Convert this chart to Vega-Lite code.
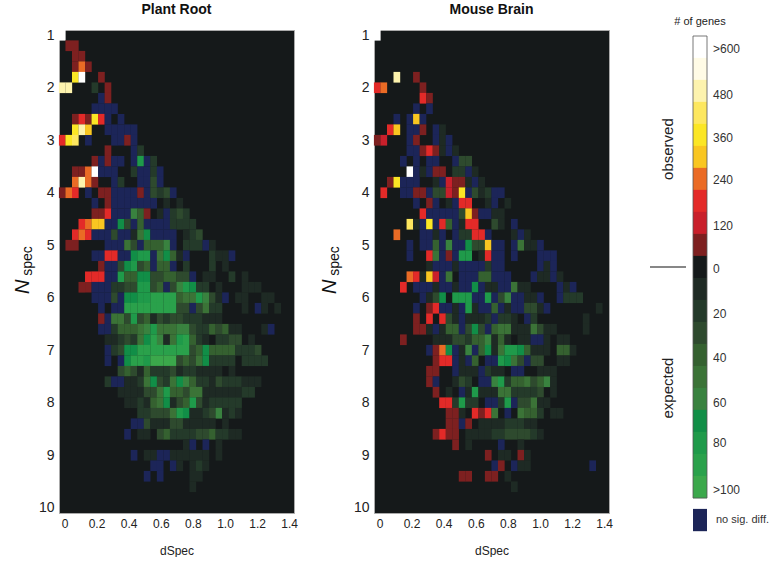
{"$schema":"https://vega.github.io/schema/vega-lite/v6.json","background":"white","padding":{"left":12,"top":2,"right":0,"bottom":0},"bounds":"flush","spacing":80,
"config":{"font":"Liberation Sans","view":{"stroke":"#aaaaaa"},"axis":{"grid":false,"domain":false,"ticks":false,"labelFont":"Liberation Sans","labelColor":"#222222"},"title":{"font":"Liberation Sans"}},
"datasets":{
"plantroot":[{"d":0,"n":1,"v":10},
{"d":0.04,"n":1.2,"v":1},{"d":0.08,"n":1.2,"v":1},
{"d":0.08,"n":1.4,"v":1},{"d":0.12,"n":1.4,"v":1},
{"d":0.08,"n":1.6,"v":1},{"d":0.12,"n":1.6,"v":4},{"d":0.16,"n":1.6,"v":1},
{"d":0.08,"n":1.8,"v":6},{"d":0.12,"n":1.8,"v":10},{"d":0.24,"n":1.8,"v":1},
{"d":0,"n":2,"v":8},{"d":0.04,"n":2,"v":8},{"d":0.2,"n":2,"v":-2},{"d":0.28,"n":2,"v":1},
{"d":0.24,"n":2.2,"v":11},{"d":0.28,"n":2.2,"v":1},
{"d":0.2,"n":2.4,"v":11},{"d":0.24,"n":2.4,"v":11},{"d":0.28,"n":2.4,"v":11},{"d":0.32,"n":2.4,"v":11},
{"d":0.08,"n":2.6,"v":1},{"d":0.12,"n":2.6,"v":3},{"d":0.16,"n":2.6,"v":1},{"d":0.2,"n":2.6,"v":6},{"d":0.24,"n":2.6,"v":3},{"d":0.28,"n":2.6,"v":11},{"d":0.36,"n":2.6,"v":11},
{"d":0.08,"n":2.8,"v":6},{"d":0.12,"n":2.8,"v":8},{"d":0.16,"n":2.8,"v":5},{"d":0.28,"n":2.8,"v":11},{"d":0.32,"n":2.8,"v":11},{"d":0.36,"n":2.8,"v":11},{"d":0.4,"n":2.8,"v":11},{"d":0.44,"n":2.8,"v":11},
{"d":0,"n":3,"v":3},{"d":0.04,"n":3,"v":6},{"d":0.08,"n":3,"v":7},{"d":0.16,"n":3,"v":11},{"d":0.32,"n":3,"v":11},{"d":0.36,"n":3,"v":11},{"d":0.4,"n":3,"v":1},{"d":0.44,"n":3,"v":11},
{"d":0.28,"n":3.2,"v":1},{"d":0.44,"n":3.2,"v":11},{"d":0.48,"n":3.2,"v":-2},
{"d":0.2,"n":3.4,"v":1},{"d":0.24,"n":3.4,"v":11},{"d":0.28,"n":3.4,"v":1},{"d":0.32,"n":3.4,"v":11},{"d":0.36,"n":3.4,"v":11},{"d":0.44,"n":3.4,"v":11},{"d":0.48,"n":3.4,"v":-8},{"d":0.52,"n":3.4,"v":11},{"d":0.56,"n":3.4,"v":-2},
{"d":0.08,"n":3.6,"v":1},{"d":0.12,"n":3.6,"v":1},{"d":0.16,"n":3.6,"v":4},{"d":0.2,"n":3.6,"v":10},{"d":0.24,"n":3.6,"v":11},{"d":0.28,"n":3.6,"v":11},{"d":0.32,"n":3.6,"v":11},{"d":0.44,"n":3.6,"v":-2},{"d":0.48,"n":3.6,"v":11},{"d":0.52,"n":3.6,"v":11},{"d":0.56,"n":3.6,"v":-2},{"d":0.6,"n":3.6,"v":11},
{"d":0.08,"n":3.8,"v":4},{"d":0.12,"n":3.8,"v":8},{"d":0.16,"n":3.8,"v":4},{"d":0.2,"n":3.8,"v":1},{"d":0.32,"n":3.8,"v":11},{"d":0.36,"n":3.8,"v":-2},{"d":0.48,"n":3.8,"v":11},{"d":0.52,"n":3.8,"v":11},{"d":0.56,"n":3.8,"v":-3},{"d":0.6,"n":3.8,"v":11},
{"d":0,"n":4,"v":1},{"d":0.04,"n":4,"v":4},{"d":0.08,"n":4,"v":3},{"d":0.16,"n":4,"v":11},{"d":0.24,"n":4,"v":1},{"d":0.28,"n":4,"v":1},{"d":0.32,"n":4,"v":11},{"d":0.36,"n":4,"v":11},{"d":0.4,"n":4,"v":11},{"d":0.44,"n":4,"v":11},{"d":0.48,"n":4,"v":1},{"d":0.52,"n":4,"v":11},{"d":0.56,"n":4,"v":-3},{"d":0.6,"n":4,"v":-2},{"d":0.64,"n":4,"v":-3},{"d":0.68,"n":4,"v":11},
{"d":0.2,"n":4.2,"v":11},{"d":0.28,"n":4.2,"v":1},{"d":0.32,"n":4.2,"v":11},{"d":0.36,"n":4.2,"v":11},{"d":0.4,"n":4.2,"v":11},{"d":0.44,"n":4.2,"v":11},{"d":0.48,"n":4.2,"v":11},{"d":0.52,"n":4.2,"v":11},{"d":0.56,"n":4.2,"v":11},{"d":0.64,"n":4.2,"v":-1},{"d":0.72,"n":4.2,"v":-1},
{"d":0.2,"n":4.4,"v":1},{"d":0.24,"n":4.4,"v":1},{"d":0.28,"n":4.4,"v":3},{"d":0.32,"n":4.4,"v":11},{"d":0.36,"n":4.4,"v":11},{"d":0.4,"n":4.4,"v":11},{"d":0.44,"n":4.4,"v":-6},{"d":0.48,"n":4.4,"v":-4},{"d":0.52,"n":4.4,"v":1},{"d":0.6,"n":4.4,"v":-1},{"d":0.64,"n":4.4,"v":11},{"d":0.68,"n":4.4,"v":-2},{"d":0.72,"n":4.4,"v":-3},{"d":0.76,"n":4.4,"v":-2},
{"d":0.12,"n":4.6,"v":3},{"d":0.16,"n":4.6,"v":4},{"d":0.2,"n":4.6,"v":5},{"d":0.24,"n":4.6,"v":5},{"d":0.28,"n":4.6,"v":11},{"d":0.32,"n":4.6,"v":11},{"d":0.36,"n":4.6,"v":-7},{"d":0.4,"n":4.6,"v":-3},{"d":0.44,"n":4.6,"v":11},{"d":0.48,"n":4.6,"v":-4},{"d":0.52,"n":4.6,"v":11},{"d":0.56,"n":4.6,"v":11},{"d":0.6,"n":4.6,"v":11},{"d":0.64,"n":4.6,"v":11},{"d":0.68,"n":4.6,"v":-2},{"d":0.72,"n":4.6,"v":-2},{"d":0.76,"n":4.6,"v":-2},{"d":0.8,"n":4.6,"v":-2},
{"d":0.08,"n":4.8,"v":3},{"d":0.12,"n":4.8,"v":4},{"d":0.16,"n":4.8,"v":3},{"d":0.2,"n":4.8,"v":11},{"d":0.24,"n":4.8,"v":11},{"d":0.28,"n":4.8,"v":11},{"d":0.32,"n":4.8,"v":-3},{"d":0.36,"n":4.8,"v":11},{"d":0.4,"n":4.8,"v":11},{"d":0.44,"n":4.8,"v":-1},{"d":0.48,"n":4.8,"v":-5},{"d":0.52,"n":4.8,"v":-7},{"d":0.56,"n":4.8,"v":11},{"d":0.6,"n":4.8,"v":11},{"d":0.64,"n":4.8,"v":11},{"d":0.68,"n":4.8,"v":11},{"d":0.76,"n":4.8,"v":-1},{"d":0.8,"n":4.8,"v":-2},{"d":0.84,"n":4.8,"v":-3},
{"d":0.04,"n":5,"v":1},{"d":0.08,"n":5,"v":1},{"d":0.28,"n":5,"v":11},{"d":0.32,"n":5,"v":11},{"d":0.36,"n":5,"v":11},{"d":0.4,"n":5,"v":-5},{"d":0.44,"n":5,"v":-3},{"d":0.48,"n":5,"v":11},{"d":0.52,"n":5,"v":-4},{"d":0.56,"n":5,"v":-4},{"d":0.6,"n":5,"v":-4},{"d":0.64,"n":5,"v":-6},{"d":0.68,"n":5,"v":11},{"d":0.76,"n":5,"v":-2},{"d":0.8,"n":5,"v":-2},{"d":0.84,"n":5,"v":-2},{"d":0.88,"n":5,"v":11},{"d":0.92,"n":5,"v":-1},
{"d":0.2,"n":5.2,"v":11},{"d":0.24,"n":5.2,"v":11},{"d":0.28,"n":5.2,"v":3},{"d":0.32,"n":5.2,"v":3},{"d":0.36,"n":5.2,"v":11},{"d":0.4,"n":5.2,"v":11},{"d":0.44,"n":5.2,"v":-7},{"d":0.48,"n":5.2,"v":-8},{"d":0.52,"n":5.2,"v":-8},{"d":0.56,"n":5.2,"v":11},{"d":0.6,"n":5.2,"v":-5},{"d":0.64,"n":5.2,"v":-7},{"d":0.68,"n":5.2,"v":-4},{"d":0.72,"n":5.2,"v":-1},{"d":0.76,"n":5.2,"v":11},{"d":0.92,"n":5.2,"v":-2},{"d":0.96,"n":5.2,"v":-1},{"d":1,"n":5.2,"v":-1},{"d":1.04,"n":5.2,"v":11},
{"d":0.24,"n":5.4,"v":1},{"d":0.28,"n":5.4,"v":11},{"d":0.32,"n":5.4,"v":11},{"d":0.36,"n":5.4,"v":-3},{"d":0.4,"n":5.4,"v":-7},{"d":0.44,"n":5.4,"v":-8},{"d":0.48,"n":5.4,"v":-3},{"d":0.52,"n":5.4,"v":-4},{"d":0.56,"n":5.4,"v":11},{"d":0.6,"n":5.4,"v":-4},{"d":0.64,"n":5.4,"v":-4},{"d":0.68,"n":5.4,"v":11},{"d":0.76,"n":5.4,"v":-2},{"d":0.92,"n":5.4,"v":-2},{"d":1,"n":5.4,"v":-1},
{"d":0.16,"n":5.6,"v":3},{"d":0.2,"n":5.6,"v":3},{"d":0.24,"n":5.6,"v":3},{"d":0.28,"n":5.6,"v":11},{"d":0.32,"n":5.6,"v":11},{"d":0.36,"n":5.6,"v":-8},{"d":0.4,"n":5.6,"v":-4},{"d":0.44,"n":5.6,"v":-4},{"d":0.48,"n":5.6,"v":-7},{"d":0.52,"n":5.6,"v":-7},{"d":0.56,"n":5.6,"v":-3},{"d":0.6,"n":5.6,"v":-3},{"d":0.64,"n":5.6,"v":-4},{"d":0.68,"n":5.6,"v":-4},{"d":0.72,"n":5.6,"v":-3},{"d":0.76,"n":5.6,"v":-3},{"d":0.8,"n":5.6,"v":11},{"d":0.88,"n":5.6,"v":-1},{"d":0.92,"n":5.6,"v":-1},{"d":1.04,"n":5.6,"v":-2},{"d":1.12,"n":5.6,"v":-1},
{"d":0.12,"n":5.8,"v":1},{"d":0.16,"n":5.8,"v":1},{"d":0.2,"n":5.8,"v":11},{"d":0.24,"n":5.8,"v":11},{"d":0.28,"n":5.8,"v":11},{"d":0.32,"n":5.8,"v":-2},{"d":0.36,"n":5.8,"v":-2},{"d":0.4,"n":5.8,"v":-3},{"d":0.44,"n":5.8,"v":-3},{"d":0.48,"n":5.8,"v":-8},{"d":0.52,"n":5.8,"v":-8},{"d":0.56,"n":5.8,"v":-3},{"d":0.6,"n":5.8,"v":-4},{"d":0.64,"n":5.8,"v":11},{"d":0.68,"n":5.8,"v":-3},{"d":0.72,"n":5.8,"v":-6},{"d":0.76,"n":5.8,"v":-8},{"d":0.8,"n":5.8,"v":-7},{"d":0.84,"n":5.8,"v":-2},{"d":0.88,"n":5.8,"v":-2},{"d":0.96,"n":5.8,"v":-1},{"d":1.12,"n":5.8,"v":-1},{"d":1.16,"n":5.8,"v":-1},{"d":1.2,"n":5.8,"v":-1},
{"d":0.2,"n":6,"v":11},{"d":0.24,"n":6,"v":11},{"d":0.28,"n":6,"v":11},{"d":0.32,"n":6,"v":-3},{"d":0.36,"n":6,"v":11},{"d":0.4,"n":6,"v":-7},{"d":0.44,"n":6,"v":-7},{"d":0.48,"n":6,"v":-8},{"d":0.52,"n":6,"v":-8},{"d":0.56,"n":6,"v":-9},{"d":0.6,"n":6,"v":-9},{"d":0.64,"n":6,"v":-9},{"d":0.68,"n":6,"v":-9},{"d":0.72,"n":6,"v":-4},{"d":0.76,"n":6,"v":-5},{"d":0.8,"n":6,"v":-5},{"d":0.84,"n":6,"v":-8},{"d":0.88,"n":6,"v":-6},{"d":0.92,"n":6,"v":-3},{"d":0.96,"n":6,"v":-1},{"d":1,"n":6,"v":11},{"d":1.08,"n":6,"v":-1},{"d":1.12,"n":6,"v":-1},{"d":1.24,"n":6,"v":-1},{"d":1.28,"n":6,"v":-1},
{"d":0.24,"n":6.2,"v":11},{"d":0.32,"n":6.2,"v":11},{"d":0.36,"n":6.2,"v":11},{"d":0.4,"n":6.2,"v":-9},{"d":0.44,"n":6.2,"v":-9},{"d":0.48,"n":6.2,"v":-9},{"d":0.52,"n":6.2,"v":-9},{"d":0.56,"n":6.2,"v":-9},{"d":0.6,"n":6.2,"v":-9},{"d":0.64,"n":6.2,"v":-9},{"d":0.68,"n":6.2,"v":-9},{"d":0.72,"n":6.2,"v":-3},{"d":0.76,"n":6.2,"v":-3},{"d":0.8,"n":6.2,"v":11},{"d":0.84,"n":6.2,"v":-3},{"d":0.88,"n":6.2,"v":-5},{"d":0.92,"n":6.2,"v":-2},{"d":0.96,"n":6.2,"v":-2},{"d":1.12,"n":6.2,"v":-1},{"d":1.2,"n":6.2,"v":11},{"d":1.24,"n":6.2,"v":-1},{"d":1.32,"n":6.2,"v":-1},
{"d":0.24,"n":6.4,"v":1},{"d":0.28,"n":6.4,"v":11},{"d":0.32,"n":6.4,"v":-5},{"d":0.36,"n":6.4,"v":-5},{"d":0.4,"n":6.4,"v":-3},{"d":0.44,"n":6.4,"v":-8},{"d":0.48,"n":6.4,"v":-3},{"d":0.52,"n":6.4,"v":-4},{"d":0.56,"n":6.4,"v":-1},{"d":0.6,"n":6.4,"v":-3},{"d":0.64,"n":6.4,"v":-2},{"d":0.68,"n":6.4,"v":-3},{"d":0.72,"n":6.4,"v":-3},{"d":0.76,"n":6.4,"v":-2},{"d":0.8,"n":6.4,"v":-2},{"d":0.84,"n":6.4,"v":-2},{"d":0.88,"n":6.4,"v":-1},{"d":0.92,"n":6.4,"v":-1},{"d":0.96,"n":6.4,"v":-1},
{"d":0.24,"n":6.6,"v":11},{"d":0.28,"n":6.6,"v":11},{"d":0.32,"n":6.6,"v":-2},{"d":0.36,"n":6.6,"v":-4},{"d":0.4,"n":6.6,"v":-4},{"d":0.44,"n":6.6,"v":-4},{"d":0.48,"n":6.6,"v":-5},{"d":0.52,"n":6.6,"v":-6},{"d":0.56,"n":6.6,"v":-8},{"d":0.6,"n":6.6,"v":-5},{"d":0.64,"n":6.6,"v":-5},{"d":0.68,"n":6.6,"v":-5},{"d":0.72,"n":6.6,"v":-6},{"d":0.76,"n":6.6,"v":-6},{"d":0.8,"n":6.6,"v":-3},{"d":0.84,"n":6.6,"v":-2},{"d":0.88,"n":6.6,"v":-2},{"d":0.92,"n":6.6,"v":-4},{"d":0.96,"n":6.6,"v":-3},{"d":1,"n":6.6,"v":-4},{"d":1.04,"n":6.6,"v":-1},{"d":1.08,"n":6.6,"v":-1},{"d":1.24,"n":6.6,"v":-1},{"d":1.28,"n":6.6,"v":11},
{"d":0.28,"n":6.8,"v":-1},{"d":0.32,"n":6.8,"v":-1},{"d":0.36,"n":6.8,"v":-2},{"d":0.4,"n":6.8,"v":-3},{"d":0.44,"n":6.8,"v":-2},{"d":0.48,"n":6.8,"v":-5},{"d":0.52,"n":6.8,"v":-7},{"d":0.56,"n":6.8,"v":-9},{"d":0.6,"n":6.8,"v":-6},{"d":0.64,"n":6.8,"v":-1},{"d":0.68,"n":6.8,"v":-5},{"d":0.72,"n":6.8,"v":-8},{"d":0.76,"n":6.8,"v":-9},{"d":0.8,"n":6.8,"v":-4},{"d":0.84,"n":6.8,"v":-2},{"d":0.88,"n":6.8,"v":-1},{"d":0.96,"n":6.8,"v":-2},{"d":1,"n":6.8,"v":-2},{"d":1.04,"n":6.8,"v":-3},{"d":1.08,"n":6.8,"v":-3},{"d":1.16,"n":6.8,"v":-1},
{"d":0.28,"n":7,"v":11},{"d":0.32,"n":7,"v":-2},{"d":0.36,"n":7,"v":-3},{"d":0.4,"n":7,"v":-7},{"d":0.44,"n":7,"v":-7},{"d":0.48,"n":7,"v":-9},{"d":0.52,"n":7,"v":-9},{"d":0.56,"n":7,"v":-9},{"d":0.6,"n":7,"v":-9},{"d":0.64,"n":7,"v":-9},{"d":0.68,"n":7,"v":-9},{"d":0.72,"n":7,"v":-9},{"d":0.76,"n":7,"v":-9},{"d":0.8,"n":7,"v":-3},{"d":0.84,"n":7,"v":-4},{"d":0.88,"n":7,"v":-7},{"d":0.92,"n":7,"v":-4},{"d":0.96,"n":7,"v":-4},{"d":1,"n":7,"v":-4},{"d":1.04,"n":7,"v":-4},{"d":1.08,"n":7,"v":-2},{"d":1.12,"n":7,"v":-2},{"d":1.16,"n":7,"v":-2},{"d":1.2,"n":7,"v":-3},
{"d":0.28,"n":7.2,"v":11},{"d":0.36,"n":7.2,"v":11},{"d":0.4,"n":7.2,"v":-7},{"d":0.44,"n":7.2,"v":-9},{"d":0.48,"n":7.2,"v":-9},{"d":0.52,"n":7.2,"v":-8},{"d":0.56,"n":7.2,"v":-10},{"d":0.6,"n":7.2,"v":-10},{"d":0.64,"n":7.2,"v":-10},{"d":0.68,"n":7.2,"v":-10},{"d":0.72,"n":7.2,"v":-3},{"d":0.76,"n":7.2,"v":-4},{"d":0.8,"n":7.2,"v":-3},{"d":0.84,"n":7.2,"v":-5},{"d":0.88,"n":7.2,"v":-7},{"d":0.92,"n":7.2,"v":-2},{"d":0.96,"n":7.2,"v":-2},{"d":1,"n":7.2,"v":-2},{"d":1.04,"n":7.2,"v":-2},{"d":1.12,"n":7.2,"v":-2},{"d":1.16,"n":7.2,"v":-2},{"d":1.2,"n":7.2,"v":-2},{"d":1.24,"n":7.2,"v":-2},
{"d":0.36,"n":7.4,"v":-3},{"d":0.4,"n":7.4,"v":-4},{"d":0.44,"n":7.4,"v":-3},{"d":0.48,"n":7.4,"v":-1},{"d":0.52,"n":7.4,"v":-4},{"d":0.56,"n":7.4,"v":-2},{"d":0.6,"n":7.4,"v":-2},{"d":0.64,"n":7.4,"v":-2},{"d":0.68,"n":7.4,"v":-3},{"d":0.72,"n":7.4,"v":-1},{"d":0.76,"n":7.4,"v":-2},{"d":0.8,"n":7.4,"v":-2},{"d":0.84,"n":7.4,"v":-1},{"d":0.88,"n":7.4,"v":-1},{"d":0.92,"n":7.4,"v":-1},{"d":0.96,"n":7.4,"v":-1},{"d":1.04,"n":7.4,"v":-1},
{"d":0.28,"n":7.6,"v":-2},{"d":0.32,"n":7.6,"v":11},{"d":0.36,"n":7.6,"v":11},{"d":0.4,"n":7.6,"v":-1},{"d":0.44,"n":7.6,"v":-1},{"d":0.48,"n":7.6,"v":-2},{"d":0.52,"n":7.6,"v":-5},{"d":0.56,"n":7.6,"v":-7},{"d":0.6,"n":7.6,"v":-3},{"d":0.64,"n":7.6,"v":-2},{"d":0.68,"n":7.6,"v":-5},{"d":0.72,"n":7.6,"v":-7},{"d":0.76,"n":7.6,"v":-6},{"d":0.8,"n":7.6,"v":-4},{"d":0.84,"n":7.6,"v":-2},{"d":0.88,"n":7.6,"v":-2},{"d":0.92,"n":7.6,"v":-1},{"d":0.96,"n":7.6,"v":-3},{"d":1,"n":7.6,"v":-2},{"d":1.04,"n":7.6,"v":-2},{"d":1.08,"n":7.6,"v":-2},{"d":1.12,"n":7.6,"v":-1},{"d":1.16,"n":7.6,"v":-1},{"d":1.2,"n":7.6,"v":-1},
{"d":0.36,"n":7.8,"v":-1},{"d":0.4,"n":7.8,"v":-1},{"d":0.44,"n":7.8,"v":-1},{"d":0.48,"n":7.8,"v":-1},{"d":0.52,"n":7.8,"v":-3},{"d":0.56,"n":7.8,"v":-3},{"d":0.6,"n":7.8,"v":-5},{"d":0.64,"n":7.8,"v":-8},{"d":0.68,"n":7.8,"v":-4},{"d":0.72,"n":7.8,"v":-4},{"d":0.76,"n":7.8,"v":-3},{"d":0.8,"n":7.8,"v":-5},{"d":0.84,"n":7.8,"v":-5},{"d":0.88,"n":7.8,"v":-1},{"d":0.92,"n":7.8,"v":-1},{"d":0.96,"n":7.8,"v":-1},{"d":1,"n":7.8,"v":-1},{"d":1.04,"n":7.8,"v":-1},{"d":1.08,"n":7.8,"v":-1},{"d":1.12,"n":7.8,"v":-2},{"d":1.16,"n":7.8,"v":-2},
{"d":0.4,"n":8,"v":-1},{"d":0.44,"n":8,"v":-1},{"d":0.48,"n":8,"v":-2},{"d":0.52,"n":8,"v":-1},{"d":0.56,"n":8,"v":-4},{"d":0.6,"n":8,"v":-5},{"d":0.64,"n":8,"v":-7},{"d":0.68,"n":8,"v":-1},{"d":0.72,"n":8,"v":-3},{"d":0.76,"n":8,"v":-4},{"d":0.8,"n":8,"v":-8},{"d":0.84,"n":8,"v":-3},{"d":0.88,"n":8,"v":-1},{"d":0.92,"n":8,"v":-2},{"d":0.96,"n":8,"v":-2},{"d":1,"n":8,"v":-2},{"d":1.04,"n":8,"v":-2},{"d":1.08,"n":8,"v":-2},
{"d":0.48,"n":8.2,"v":-2},{"d":0.52,"n":8.2,"v":-2},{"d":0.56,"n":8.2,"v":-3},{"d":0.6,"n":8.2,"v":-3},{"d":0.64,"n":8.2,"v":-3},{"d":0.68,"n":8.2,"v":-5},{"d":0.72,"n":8.2,"v":-8},{"d":0.76,"n":8.2,"v":-7},{"d":0.8,"n":8.2,"v":-1},{"d":0.84,"n":8.2,"v":-1},{"d":0.88,"n":8.2,"v":-2},{"d":0.92,"n":8.2,"v":-3},{"d":0.96,"n":8.2,"v":-6},{"d":1,"n":8.2,"v":-1},{"d":1.04,"n":8.2,"v":-2},{"d":1.08,"n":8.2,"v":-1},
{"d":0.44,"n":8.4,"v":11},{"d":0.48,"n":8.4,"v":11},{"d":0.52,"n":8.4,"v":-3},{"d":0.56,"n":8.4,"v":-1},{"d":0.6,"n":8.4,"v":-1},{"d":0.64,"n":8.4,"v":-1},{"d":0.68,"n":8.4,"v":-3},{"d":0.72,"n":8.4,"v":-3},{"d":0.76,"n":8.4,"v":-1},{"d":0.8,"n":8.4,"v":-1},{"d":0.84,"n":8.4,"v":-1},{"d":0.88,"n":8.4,"v":-1},{"d":0.92,"n":8.4,"v":-1},{"d":1,"n":8.4,"v":-1},
{"d":0.4,"n":8.6,"v":11},{"d":0.48,"n":8.6,"v":-1},{"d":0.52,"n":8.6,"v":-1},{"d":0.6,"n":8.6,"v":-3},{"d":0.64,"n":8.6,"v":-4},{"d":0.68,"n":8.6,"v":-2},{"d":0.72,"n":8.6,"v":-2},{"d":0.76,"n":8.6,"v":-2},{"d":0.8,"n":8.6,"v":-2},{"d":0.84,"n":8.6,"v":-3},{"d":0.88,"n":8.6,"v":-3},{"d":0.92,"n":8.6,"v":-4},{"d":0.96,"n":8.6,"v":-2},{"d":1,"n":8.6,"v":-2},{"d":1.04,"n":8.6,"v":-1},{"d":1.08,"n":8.6,"v":-1},
{"d":0.76,"n":8.8,"v":-1},{"d":0.8,"n":8.8,"v":11},{"d":0.88,"n":8.8,"v":11},{"d":0.96,"n":8.8,"v":-1},
{"d":0.44,"n":9,"v":11},{"d":0.52,"n":9,"v":-1},{"d":0.56,"n":9,"v":-1},{"d":0.6,"n":9,"v":11},{"d":0.64,"n":9,"v":11},{"d":0.68,"n":9,"v":-1},{"d":0.72,"n":9,"v":-1},{"d":0.76,"n":9,"v":-1},{"d":0.8,"n":9,"v":-1},{"d":0.84,"n":9,"v":-1},{"d":0.88,"n":9,"v":-1},{"d":0.96,"n":9,"v":-1},
{"d":0.56,"n":9.2,"v":11},{"d":0.6,"n":9.2,"v":11},{"d":0.68,"n":9.2,"v":11},{"d":0.72,"n":9.2,"v":-1},{"d":0.8,"n":9.2,"v":-1},{"d":0.84,"n":9.2,"v":-2},{"d":0.88,"n":9.2,"v":-1},
{"d":0.52,"n":9.4,"v":11},{"d":0.6,"n":9.4,"v":11},{"d":0.8,"n":9.4,"v":-1},{"d":0.84,"n":9.4,"v":-1},
{"d":0.8,"n":9.6,"v":-1}],
"mousebrain":[{"d":0,"n":1,"v":10},
{"d":0.12,"n":1.8,"v":8},{"d":0.24,"n":1.8,"v":1},
{"d":0,"n":2,"v":3},{"d":0.04,"n":2,"v":4},{"d":0.28,"n":2,"v":1},
{"d":0.28,"n":2.2,"v":3},{"d":0.32,"n":2.2,"v":1},
{"d":0.24,"n":2.4,"v":11},{"d":0.32,"n":2.4,"v":11},
{"d":0.12,"n":2.6,"v":11},{"d":0.2,"n":2.6,"v":11},{"d":0.24,"n":2.6,"v":5},{"d":0.28,"n":2.6,"v":11},
{"d":0.08,"n":2.8,"v":3},{"d":0.12,"n":2.8,"v":5},{"d":0.2,"n":2.8,"v":11},{"d":0.24,"n":2.8,"v":11},{"d":0.28,"n":2.8,"v":1},{"d":0.36,"n":2.8,"v":11},{"d":0.4,"n":2.8,"v":-1},
{"d":0,"n":3,"v":1},{"d":0.04,"n":3,"v":2},{"d":0.2,"n":3,"v":11},{"d":0.24,"n":3,"v":1},{"d":0.36,"n":3,"v":11},{"d":0.4,"n":3,"v":-1},{"d":0.44,"n":3,"v":11},
{"d":0.2,"n":3.2,"v":11},{"d":0.24,"n":3.2,"v":11},{"d":0.28,"n":3.2,"v":1},{"d":0.32,"n":3.2,"v":3},{"d":0.36,"n":3.2,"v":1},{"d":0.4,"n":3.2,"v":-1},{"d":0.44,"n":3.2,"v":11},{"d":0.48,"n":3.2,"v":-1},
{"d":0.16,"n":3.4,"v":11},{"d":0.24,"n":3.4,"v":11},{"d":0.32,"n":3.4,"v":11},{"d":0.36,"n":3.4,"v":11},{"d":0.48,"n":3.4,"v":11},{"d":0.52,"n":3.4,"v":-3},{"d":0.56,"n":3.4,"v":-3},
{"d":0.2,"n":3.6,"v":10},{"d":0.24,"n":3.6,"v":11},{"d":0.28,"n":3.6,"v":-1},{"d":0.32,"n":3.6,"v":11},{"d":0.36,"n":3.6,"v":1},{"d":0.4,"n":3.6,"v":1},{"d":0.48,"n":3.6,"v":-2},{"d":0.52,"n":3.6,"v":-2},{"d":0.56,"n":3.6,"v":11},{"d":0.6,"n":3.6,"v":-1},
{"d":0.08,"n":3.8,"v":1},{"d":0.12,"n":3.8,"v":6},{"d":0.16,"n":3.8,"v":11},{"d":0.2,"n":3.8,"v":11},{"d":0.24,"n":3.8,"v":11},{"d":0.36,"n":3.8,"v":-1},{"d":0.4,"n":3.8,"v":11},{"d":0.44,"n":3.8,"v":2},{"d":0.48,"n":3.8,"v":1},{"d":0.52,"n":3.8,"v":1},{"d":0.56,"n":3.8,"v":-1},{"d":0.6,"n":3.8,"v":11},{"d":0.64,"n":3.8,"v":-1},
{"d":0.04,"n":4,"v":3},{"d":0.16,"n":4,"v":11},{"d":0.2,"n":4,"v":11},{"d":0.24,"n":4,"v":1},{"d":0.28,"n":4,"v":1},{"d":0.32,"n":4,"v":11},{"d":0.36,"n":4,"v":-3},{"d":0.4,"n":4,"v":-3},{"d":0.44,"n":4,"v":2},{"d":0.48,"n":4,"v":1},{"d":0.52,"n":4,"v":6},{"d":0.56,"n":4,"v":11},{"d":0.6,"n":4,"v":-3},{"d":0.64,"n":4,"v":-1},{"d":0.68,"n":4,"v":-2},{"d":0.72,"n":4,"v":11},{"d":0.76,"n":4,"v":11},
{"d":0.24,"n":4.2,"v":11},{"d":0.32,"n":4.2,"v":1},{"d":0.36,"n":4.2,"v":11},{"d":0.44,"n":4.2,"v":-1},{"d":0.48,"n":4.2,"v":11},{"d":0.52,"n":4.2,"v":3},{"d":0.56,"n":4.2,"v":3},{"d":0.68,"n":4.2,"v":-1},{"d":0.72,"n":4.2,"v":11},{"d":0.8,"n":4.2,"v":-1},
{"d":0.28,"n":4.4,"v":3},{"d":0.32,"n":4.4,"v":11},{"d":0.36,"n":4.4,"v":11},{"d":0.4,"n":4.4,"v":11},{"d":0.44,"n":4.4,"v":11},{"d":0.48,"n":4.4,"v":11},{"d":0.52,"n":4.4,"v":-3},{"d":0.56,"n":4.4,"v":5},{"d":0.6,"n":4.4,"v":1},{"d":0.64,"n":4.4,"v":11},{"d":0.68,"n":4.4,"v":11},{"d":0.72,"n":4.4,"v":-1},{"d":0.76,"n":4.4,"v":-1},
{"d":0.2,"n":4.6,"v":7},{"d":0.24,"n":4.6,"v":-1},{"d":0.28,"n":4.6,"v":11},{"d":0.32,"n":4.6,"v":6},{"d":0.36,"n":4.6,"v":11},{"d":0.4,"n":4.6,"v":3},{"d":0.44,"n":4.6,"v":-4},{"d":0.48,"n":4.6,"v":11},{"d":0.52,"n":4.6,"v":-1},{"d":0.56,"n":4.6,"v":3},{"d":0.6,"n":4.6,"v":3},{"d":0.72,"n":4.6,"v":-3},{"d":0.76,"n":4.6,"v":-1},{"d":0.84,"n":4.6,"v":11},
{"d":0.12,"n":4.8,"v":4},{"d":0.28,"n":4.8,"v":11},{"d":0.32,"n":4.8,"v":11},{"d":0.36,"n":4.8,"v":-1},{"d":0.4,"n":4.8,"v":11},{"d":0.48,"n":4.8,"v":11},{"d":0.52,"n":4.8,"v":-2},{"d":0.56,"n":4.8,"v":-2},{"d":0.6,"n":4.8,"v":3},{"d":0.64,"n":4.8,"v":3},{"d":0.68,"n":4.8,"v":11},{"d":0.84,"n":4.8,"v":-1},{"d":0.88,"n":4.8,"v":11},{"d":0.92,"n":4.8,"v":-1},
{"d":0.2,"n":5,"v":11},{"d":0.28,"n":5,"v":11},{"d":0.32,"n":5,"v":11},{"d":0.36,"n":5,"v":-4},{"d":0.4,"n":5,"v":11},{"d":0.44,"n":5,"v":-6},{"d":0.48,"n":5,"v":11},{"d":0.52,"n":5,"v":11},{"d":0.56,"n":5,"v":-7},{"d":0.6,"n":5,"v":-3},{"d":0.64,"n":5,"v":-3},{"d":0.68,"n":5,"v":5},{"d":0.72,"n":5,"v":11},{"d":0.76,"n":5,"v":11},{"d":0.84,"n":5,"v":11},{"d":0.88,"n":5,"v":-5},{"d":0.92,"n":5,"v":-1},{"d":0.96,"n":5,"v":-1},{"d":1,"n":5,"v":11},
{"d":0.2,"n":5.2,"v":11},{"d":0.32,"n":5.2,"v":3},{"d":0.36,"n":5.2,"v":-5},{"d":0.4,"n":5.2,"v":11},{"d":0.44,"n":5.2,"v":1},{"d":0.48,"n":5.2,"v":11},{"d":0.52,"n":5.2,"v":-8},{"d":0.56,"n":5.2,"v":-8},{"d":0.64,"n":5.2,"v":-1},{"d":0.68,"n":5.2,"v":3},{"d":0.72,"n":5.2,"v":11},{"d":0.76,"n":5.2,"v":11},{"d":0.84,"n":5.2,"v":11},{"d":1,"n":5.2,"v":11},{"d":1.04,"n":5.2,"v":11},{"d":1.08,"n":5.2,"v":11},
{"d":0.32,"n":5.4,"v":-1},{"d":0.36,"n":5.4,"v":11},{"d":0.4,"n":5.4,"v":11},{"d":0.44,"n":5.4,"v":11},{"d":0.48,"n":5.4,"v":-1},{"d":0.52,"n":5.4,"v":11},{"d":0.56,"n":5.4,"v":11},{"d":0.6,"n":5.4,"v":11},{"d":0.64,"n":5.4,"v":11},{"d":0.68,"n":5.4,"v":-2},{"d":0.72,"n":5.4,"v":11},{"d":0.76,"n":5.4,"v":11},{"d":1,"n":5.4,"v":11},{"d":1.04,"n":5.4,"v":-1},{"d":1.08,"n":5.4,"v":11},
{"d":0.2,"n":5.6,"v":4},{"d":0.24,"n":5.6,"v":3},{"d":0.28,"n":5.6,"v":-1},{"d":0.32,"n":5.6,"v":5},{"d":0.36,"n":5.6,"v":2},{"d":0.4,"n":5.6,"v":11},{"d":0.44,"n":5.6,"v":-5},{"d":0.52,"n":5.6,"v":11},{"d":0.56,"n":5.6,"v":11},{"d":0.6,"n":5.6,"v":11},{"d":0.64,"n":5.6,"v":-4},{"d":0.68,"n":5.6,"v":-4},{"d":0.72,"n":5.6,"v":11},{"d":0.76,"n":5.6,"v":11},{"d":0.8,"n":5.6,"v":11},{"d":0.96,"n":5.6,"v":11},{"d":1,"n":5.6,"v":-1},{"d":1.04,"n":5.6,"v":-1},{"d":1.08,"n":5.6,"v":11},{"d":1.12,"n":5.6,"v":-1},
{"d":0.16,"n":5.8,"v":3},{"d":0.24,"n":5.8,"v":11},{"d":0.28,"n":5.8,"v":11},{"d":0.32,"n":5.8,"v":11},{"d":0.36,"n":5.8,"v":-1},{"d":0.4,"n":5.8,"v":11},{"d":0.44,"n":5.8,"v":11},{"d":0.48,"n":5.8,"v":-1},{"d":0.52,"n":5.8,"v":11},{"d":0.56,"n":5.8,"v":11},{"d":0.6,"n":5.8,"v":-7},{"d":0.64,"n":5.8,"v":11},{"d":0.68,"n":5.8,"v":-1},{"d":0.72,"n":5.8,"v":-1},{"d":0.76,"n":5.8,"v":11},{"d":0.8,"n":5.8,"v":11},{"d":0.84,"n":5.8,"v":-5},{"d":0.88,"n":5.8,"v":-1},{"d":0.92,"n":5.8,"v":-1},{"d":1.12,"n":5.8,"v":11},{"d":1.16,"n":5.8,"v":-1},{"d":1.2,"n":5.8,"v":11},
{"d":0.28,"n":6,"v":11},{"d":0.32,"n":6,"v":-1},{"d":0.36,"n":6,"v":-3},{"d":0.4,"n":6,"v":-7},{"d":0.48,"n":6,"v":-8},{"d":0.52,"n":6,"v":-8},{"d":0.56,"n":6,"v":-8},{"d":0.6,"n":6,"v":11},{"d":0.64,"n":6,"v":11},{"d":0.68,"n":6,"v":-8},{"d":0.72,"n":6,"v":11},{"d":0.76,"n":6,"v":-3},{"d":0.8,"n":6,"v":-6},{"d":0.84,"n":6,"v":11},{"d":0.88,"n":6,"v":11},{"d":0.92,"n":6,"v":-1},{"d":0.96,"n":6,"v":-1},{"d":1,"n":6,"v":11},{"d":1.12,"n":6,"v":11},{"d":1.16,"n":6,"v":-2},{"d":1.2,"n":6,"v":-2},{"d":1.24,"n":6,"v":-2},
{"d":0.24,"n":6.2,"v":11},{"d":0.32,"n":6.2,"v":1},{"d":0.36,"n":6.2,"v":3},{"d":0.4,"n":6.2,"v":11},{"d":0.44,"n":6.2,"v":11},{"d":0.48,"n":6.2,"v":-1},{"d":0.52,"n":6.2,"v":11},{"d":0.56,"n":6.2,"v":-8},{"d":0.6,"n":6.2,"v":-1},{"d":0.64,"n":6.2,"v":11},{"d":0.68,"n":6.2,"v":11},{"d":0.72,"n":6.2,"v":-4},{"d":0.76,"n":6.2,"v":11},{"d":0.8,"n":6.2,"v":-1},{"d":0.84,"n":6.2,"v":11},{"d":0.88,"n":6.2,"v":11},{"d":0.92,"n":6.2,"v":-3},{"d":0.96,"n":6.2,"v":-3},{"d":1,"n":6.2,"v":-1},{"d":1.04,"n":6.2,"v":11},{"d":1.36,"n":6.2,"v":-1},
{"d":0.24,"n":6.4,"v":1},{"d":0.32,"n":6.4,"v":3},{"d":0.4,"n":6.4,"v":3},{"d":0.44,"n":6.4,"v":-3},{"d":0.48,"n":6.4,"v":-1},{"d":0.52,"n":6.4,"v":11},{"d":0.56,"n":6.4,"v":-1},{"d":0.6,"n":6.4,"v":-1},{"d":0.64,"n":6.4,"v":-1},{"d":0.68,"n":6.4,"v":-2},{"d":0.72,"n":6.4,"v":11},{"d":0.76,"n":6.4,"v":-2},{"d":0.8,"n":6.4,"v":-2},{"d":0.84,"n":6.4,"v":-1},{"d":0.92,"n":6.4,"v":11},{"d":0.96,"n":6.4,"v":-2},{"d":1.28,"n":6.4,"v":-1},
{"d":0.24,"n":6.6,"v":1},{"d":0.28,"n":6.6,"v":1},{"d":0.32,"n":6.6,"v":-1},{"d":0.36,"n":6.6,"v":11},{"d":0.4,"n":6.6,"v":-1},{"d":0.44,"n":6.6,"v":-4},{"d":0.48,"n":6.6,"v":-4},{"d":0.52,"n":6.6,"v":11},{"d":0.56,"n":6.6,"v":-3},{"d":0.6,"n":6.6,"v":-7},{"d":0.64,"n":6.6,"v":-3},{"d":0.68,"n":6.6,"v":11},{"d":0.72,"n":6.6,"v":-4},{"d":0.76,"n":6.6,"v":-5},{"d":0.8,"n":6.6,"v":-5},{"d":0.84,"n":6.6,"v":-1},{"d":0.88,"n":6.6,"v":-1},{"d":0.92,"n":6.6,"v":-1},{"d":0.96,"n":6.6,"v":-5},{"d":1,"n":6.6,"v":-3},{"d":1.04,"n":6.6,"v":-1},{"d":1.08,"n":6.6,"v":-1},{"d":1.28,"n":6.6,"v":-1},
{"d":0.16,"n":6.8,"v":1},{"d":0.36,"n":6.8,"v":-1},{"d":0.4,"n":6.8,"v":-1},{"d":0.44,"n":6.8,"v":-1},{"d":0.48,"n":6.8,"v":-3},{"d":0.52,"n":6.8,"v":-3},{"d":0.56,"n":6.8,"v":-2},{"d":0.6,"n":6.8,"v":-4},{"d":0.64,"n":6.8,"v":-4},{"d":0.68,"n":6.8,"v":-6},{"d":0.72,"n":6.8,"v":-1},{"d":0.76,"n":6.8,"v":-4},{"d":0.8,"n":6.8,"v":-1},{"d":0.88,"n":6.8,"v":-1},{"d":0.92,"n":6.8,"v":-1},{"d":0.96,"n":6.8,"v":11},{"d":1,"n":6.8,"v":11},{"d":1.04,"n":6.8,"v":-1},{"d":1.12,"n":6.8,"v":-1},{"d":1.16,"n":6.8,"v":-1},
{"d":0.32,"n":7,"v":11},{"d":0.36,"n":7,"v":1},{"d":0.4,"n":7,"v":4},{"d":0.44,"n":7,"v":-7},{"d":0.48,"n":7,"v":11},{"d":0.52,"n":7,"v":-1},{"d":0.56,"n":7,"v":-6},{"d":0.6,"n":7,"v":11},{"d":0.64,"n":7,"v":-4},{"d":0.68,"n":7,"v":-7},{"d":0.72,"n":7,"v":-1},{"d":0.76,"n":7,"v":-5},{"d":0.8,"n":7,"v":-8},{"d":0.84,"n":7,"v":-8},{"d":0.88,"n":7,"v":-7},{"d":0.92,"n":7,"v":-4},{"d":0.96,"n":7,"v":-1},{"d":1,"n":7,"v":-1},{"d":1.04,"n":7,"v":-1},{"d":1.12,"n":7,"v":-4},{"d":1.16,"n":7,"v":-4},{"d":1.2,"n":7,"v":-1},
{"d":0.36,"n":7.2,"v":1},{"d":0.4,"n":7.2,"v":3},{"d":0.44,"n":7.2,"v":3},{"d":0.48,"n":7.2,"v":11},{"d":0.52,"n":7.2,"v":-1},{"d":0.56,"n":7.2,"v":11},{"d":0.6,"n":7.2,"v":-4},{"d":0.68,"n":7.2,"v":11},{"d":0.72,"n":7.2,"v":11},{"d":0.76,"n":7.2,"v":-8},{"d":0.8,"n":7.2,"v":-7},{"d":0.84,"n":7.2,"v":-5},{"d":0.88,"n":7.2,"v":-3},{"d":0.92,"n":7.2,"v":11},{"d":0.96,"n":7.2,"v":-3},{"d":1,"n":7.2,"v":-3},{"d":1.12,"n":7.2,"v":-1},{"d":1.16,"n":7.2,"v":-1},
{"d":0.32,"n":7.4,"v":1},{"d":0.36,"n":7.4,"v":1},{"d":0.48,"n":7.4,"v":11},{"d":0.52,"n":7.4,"v":-1},{"d":0.56,"n":7.4,"v":-1},{"d":0.6,"n":7.4,"v":-1},{"d":0.64,"n":7.4,"v":11},{"d":0.68,"n":7.4,"v":-2},{"d":0.72,"n":7.4,"v":-1},{"d":0.76,"n":7.4,"v":-1},{"d":0.84,"n":7.4,"v":11},{"d":0.88,"n":7.4,"v":11},{"d":1,"n":7.4,"v":-1},{"d":1.04,"n":7.4,"v":-1},{"d":1.08,"n":7.4,"v":-1},
{"d":0.32,"n":7.6,"v":1},{"d":0.36,"n":7.6,"v":11},{"d":0.48,"n":7.6,"v":-1},{"d":0.52,"n":7.6,"v":-3},{"d":0.56,"n":7.6,"v":-2},{"d":0.64,"n":7.6,"v":11},{"d":0.68,"n":7.6,"v":11},{"d":0.72,"n":7.6,"v":-6},{"d":0.76,"n":7.6,"v":-8},{"d":0.8,"n":7.6,"v":-2},{"d":0.84,"n":7.6,"v":-4},{"d":0.88,"n":7.6,"v":-4},{"d":0.92,"n":7.6,"v":-5},{"d":0.96,"n":7.6,"v":-3},{"d":1,"n":7.6,"v":-4},{"d":1.04,"n":7.6,"v":-6},{"d":1.08,"n":7.6,"v":-1},
{"d":0.36,"n":7.8,"v":1},{"d":0.44,"n":7.8,"v":-1},{"d":0.52,"n":7.8,"v":11},{"d":0.56,"n":7.8,"v":-1},{"d":0.6,"n":7.8,"v":-8},{"d":0.64,"n":7.8,"v":-1},{"d":0.68,"n":7.8,"v":-1},{"d":0.72,"n":7.8,"v":-1},{"d":0.76,"n":7.8,"v":-5},{"d":0.8,"n":7.8,"v":-5},{"d":0.84,"n":7.8,"v":-2},{"d":0.88,"n":7.8,"v":-2},{"d":0.92,"n":7.8,"v":-2},{"d":0.96,"n":7.8,"v":-2},{"d":1,"n":7.8,"v":-3},{"d":1.08,"n":7.8,"v":-1},
{"d":0.4,"n":8,"v":3},{"d":0.44,"n":8,"v":3},{"d":0.48,"n":8,"v":-2},{"d":0.52,"n":8,"v":-8},{"d":0.56,"n":8,"v":-2},{"d":0.6,"n":8,"v":-2},{"d":0.68,"n":8,"v":11},{"d":0.72,"n":8,"v":11},{"d":0.76,"n":8,"v":-2},{"d":0.8,"n":8,"v":-8},{"d":0.84,"n":8,"v":11},{"d":0.88,"n":8,"v":-3},{"d":0.92,"n":8,"v":-3},{"d":0.96,"n":8,"v":-5},{"d":1,"n":8,"v":-1},{"d":1.04,"n":8,"v":-1},
{"d":0.44,"n":8.2,"v":1},{"d":0.48,"n":8.2,"v":1},{"d":0.52,"n":8.2,"v":-1},{"d":0.6,"n":8.2,"v":3},{"d":0.64,"n":8.2,"v":1},{"d":0.68,"n":8.2,"v":3},{"d":0.72,"n":8.2,"v":-5},{"d":0.8,"n":8.2,"v":11},{"d":0.88,"n":8.2,"v":-5},{"d":0.92,"n":8.2,"v":-4},{"d":0.96,"n":8.2,"v":-4},{"d":1,"n":8.2,"v":-2},{"d":1.08,"n":8.2,"v":-1},{"d":1.12,"n":8.2,"v":-1},
{"d":0.44,"n":8.4,"v":1},{"d":0.48,"n":8.4,"v":1},{"d":0.52,"n":8.4,"v":11},{"d":0.56,"n":8.4,"v":1},{"d":0.64,"n":8.4,"v":-1},{"d":0.68,"n":8.4,"v":-1},{"d":0.72,"n":8.4,"v":-1},{"d":0.76,"n":8.4,"v":-1},{"d":0.8,"n":8.4,"v":-2},{"d":0.84,"n":8.4,"v":-2},{"d":0.88,"n":8.4,"v":-2},{"d":0.92,"n":8.4,"v":-1},{"d":0.96,"n":8.4,"v":-1},
{"d":0.36,"n":8.6,"v":1},{"d":0.4,"n":8.6,"v":3},{"d":0.44,"n":8.6,"v":1},{"d":0.48,"n":8.6,"v":1},{"d":0.56,"n":8.6,"v":-1},{"d":0.6,"n":8.6,"v":-1},{"d":0.64,"n":8.6,"v":-1},{"d":0.68,"n":8.6,"v":-1},{"d":0.72,"n":8.6,"v":-2},{"d":0.76,"n":8.6,"v":-2},{"d":0.8,"n":8.6,"v":-3},{"d":0.84,"n":8.6,"v":-3},{"d":0.88,"n":8.6,"v":-3},{"d":0.92,"n":8.6,"v":-3},{"d":0.96,"n":8.6,"v":-2},{"d":1,"n":8.6,"v":-1},
{"d":0.48,"n":8.8,"v":1},{"d":0.56,"n":8.8,"v":-1},{"d":0.76,"n":8.8,"v":11},{"d":0.88,"n":8.8,"v":-1},
{"d":0.68,"n":9,"v":1},{"d":0.76,"n":9,"v":-1},{"d":0.8,"n":9,"v":-1},{"d":0.88,"n":9,"v":1},{"d":0.92,"n":9,"v":-1},
{"d":0.72,"n":9.2,"v":11},{"d":0.76,"n":9.2,"v":1},{"d":0.84,"n":9.2,"v":11},{"d":0.88,"n":9.2,"v":-1},{"d":0.92,"n":9.2,"v":-1},{"d":1.32,"n":9.2,"v":11},
{"d":0.52,"n":9.4,"v":1},{"d":0.56,"n":9.4,"v":1},{"d":0.68,"n":9.4,"v":1},{"d":0.72,"n":9.4,"v":1},{"d":0.8,"n":9.4,"v":-1},
{"d":0.84,"n":9.6,"v":-1}]},
"hconcat":[
{"width":235,"height":483,"title":{"text":"Plant Root","fontSize":14,"fontWeight":"bold","color":"#111111","offset":11,"anchor":"middle"},
"layer":[
{"data":{"name":"plantroot"},"mark":{"type":"rect","width":6.7,"height":10.7},
"encoding":{"x":{"field":"d","type":"quantitative","title":"dSpec","scale":{"domain":[-0.02,1.42],"nice":false,"zero":false},"axis":{"values":[0.014,0.21,0.407,0.604,0.8,0.997,1.194,1.39],"tickCount":8,"labelOverlap":false,"labelExpr":"datum.value<0.1?'0':format(round(datum.value*5)/5,'.1f')","labelFontSize":12,"labelPadding":5,"titleFontSize":12,"titleFontWeight":"normal","titlePadding":16,"titleColor":"#222222"}},
"y":{"field":"n","type":"quantitative","title":null,"scale":{"domain":[10.1,0.9],"nice":false,"zero":false},"axis":{"values":[1,2,3,4,5,6,7,8,9,10],"tickCount":10,"labelOverlap":false,"labelFontSize":14,"labelPadding":5}},
"color":{"field":"v","type":"ordinal","legend":null,"scale":{"domain":[-10,-9,-8,-7,-6,-5,-4,-3,-2,-1,0,1,2,3,4,5,6,7,8,9,10,11],"range":["#3ba84b","#2aa14b","#1f9a4a","#118e47","#39823f","#3b7337","#356130","#2e4a2e","#243a2a","#1e2a24","#15191a","#7d2020","#c9202b","#e32a28","#ea6b25","#f9c621","#fbe625","#fde75f","#fdf3ae","#fffbe6","#ffffff","#1c2558"]}}}},
{"data":{"values":[{"d":-0.238,"n":5.79,"t":"N"}]},"mark":{"type":"text","angle":270,"align":"center","baseline":"middle","color":"#111111","font":"Liberation Sans","fontSize":20,"fontStyle":"italic"},
"encoding":{"x":{"field":"d","type":"quantitative"},"y":{"field":"n","type":"quantitative"},"text":{"field":"t"}}},
{"data":{"values":[{"d":-0.207,"n":5.3,"t":"spec"}]},"mark":{"type":"text","angle":270,"align":"center","baseline":"middle","color":"#111111","font":"Liberation Sans","fontSize":14},
"encoding":{"x":{"field":"d","type":"quantitative"},"y":{"field":"n","type":"quantitative"},"text":{"field":"t"}}}
],"view":{"fill":"#15191a"}},
{"width":235,"height":483,"title":{"text":"Mouse Brain","fontSize":14,"fontWeight":"bold","color":"#111111","offset":11,"anchor":"middle"},
"layer":[
{"data":{"name":"mousebrain"},"mark":{"type":"rect","width":6.7,"height":10.7},
"encoding":{"x":{"field":"d","type":"quantitative","title":"dSpec","scale":{"domain":[-0.02,1.42],"nice":false,"zero":false},"axis":{"values":[0.014,0.21,0.407,0.604,0.8,0.997,1.194,1.39],"tickCount":8,"labelOverlap":false,"labelExpr":"datum.value<0.1?'0':format(round(datum.value*5)/5,'.1f')","labelFontSize":12,"labelPadding":5,"titleFontSize":12,"titleFontWeight":"normal","titlePadding":16,"titleColor":"#222222"}},
"y":{"field":"n","type":"quantitative","title":null,"scale":{"domain":[10.1,0.9],"nice":false,"zero":false},"axis":{"values":[1,2,3,4,5,6,7,8,9,10],"tickCount":10,"labelOverlap":false,"labelFontSize":14,"labelPadding":5}},
"color":{"field":"v","type":"ordinal","legend":null,"scale":{"domain":[-10,-9,-8,-7,-6,-5,-4,-3,-2,-1,0,1,2,3,4,5,6,7,8,9,10,11],"range":["#3ba84b","#2aa14b","#1f9a4a","#118e47","#39823f","#3b7337","#356130","#2e4a2e","#243a2a","#1e2a24","#15191a","#7d2020","#c9202b","#e32a28","#ea6b25","#f9c621","#fbe625","#fde75f","#fdf3ae","#fffbe6","#ffffff","#1c2558"]}}}},
{"data":{"values":[{"d":-0.29,"n":5.79,"t":"N"}]},"mark":{"type":"text","angle":270,"align":"center","baseline":"middle","color":"#111111","font":"Liberation Sans","fontSize":20,"fontStyle":"italic"},
"encoding":{"x":{"field":"d","type":"quantitative"},"y":{"field":"n","type":"quantitative"},"text":{"field":"t"}}},
{"data":{"values":[{"d":-0.257,"n":5.3,"t":"spec"}]},"mark":{"type":"text","angle":270,"align":"center","baseline":"middle","color":"#111111","font":"Liberation Sans","fontSize":14},
"encoding":{"x":{"field":"d","type":"quantitative"},"y":{"field":"n","type":"quantitative"},"text":{"field":"t"}}}
],"view":{"fill":"#15191a"}},
{"width":87,"height":483,"view":{"stroke":null},
"layer":[
{"data":{"values":[{"x":11,"i":0,"v":10},{"x":11,"i":1,"v":9},{"x":11,"i":2,"v":8},{"x":11,"i":3,"v":7},{"x":11,"i":4,"v":6},{"x":11,"i":5,"v":5},{"x":11,"i":6,"v":4},{"x":11,"i":7,"v":3},{"x":11,"i":8,"v":2},{"x":11,"i":9,"v":1},{"x":11,"i":10,"v":0},{"x":11,"i":11,"v":-1},{"x":11,"i":12,"v":-2},{"x":11,"i":13,"v":-3},{"x":11,"i":14,"v":-4},{"x":11,"i":15,"v":-5},{"x":11,"i":16,"v":-6},{"x":11,"i":17,"v":-7},{"x":11,"i":18,"v":-8},{"x":11,"i":19,"v":-9},{"x":11,"i":20,"v":-10},{"x":11,"i":21.5,"v":11}]},
"mark":{"type":"rect","width":14,"height":22.3},
"encoding":{"x":{"field":"x","type":"quantitative","axis":null,"scale":{"domain":[0,87],"nice":false,"zero":false}},"y":{"field":"i","type":"quantitative","axis":null,"scale":{"domain":[21.18,-0.773],"nice":false,"zero":false}},
"color":{"field":"v","type":"ordinal","legend":null,"scale":{"domain":[-10,-9,-8,-7,-6,-5,-4,-3,-2,-1,0,1,2,3,4,5,6,7,8,9,10,11],"range":["#3ba84b","#2aa14b","#1f9a4a","#118e47","#39823f","#3b7337","#356130","#2e4a2e","#243a2a","#1e2a24","#15191a","#7d2020","#c9202b","#e32a28","#ea6b25","#f9c621","#fbe625","#fde75f","#fdf3ae","#fffbe6","#ffffff","#1c2558"]}}}},
{"data":{"values":[{"x":4,"x2":18,"i":-0.5,"i2":20.5}]},"mark":{"type":"rect","fillOpacity":0,"stroke":"#555555","strokeWidth":0.8},
"encoding":{"x":{"field":"x","type":"quantitative"},"x2":{"field":"x2"},"y":{"field":"i","type":"quantitative"},"y2":{"field":"i2"}}},
{"data":{"values":[{"x":-39,"x2":-3,"i":10}]},"mark":{"type":"rule","color":"#111111","strokeWidth":1.2},
"encoding":{"x":{"field":"x","type":"quantitative"},"x2":{"field":"x2"},"y":{"field":"i","type":"quantitative"}}},
{"data":{"values":[{"x":24,"i":0.09,"t":">600"},{"x":24,"i":2.18,"t":"480"},{"x":24,"i":4.14,"t":"360"},{"x":24,"i":6.05,"t":"240"},{"x":24,"i":8.14,"t":"120"},{"x":24,"i":10.09,"t":"0"},{"x":24,"i":12.14,"t":"20"},{"x":24,"i":14.14,"t":"40"},{"x":24,"i":16.18,"t":"60"},{"x":24,"i":18,"t":"80"},{"x":24,"i":20.14,"t":">100"}]},"mark":{"type":"text","align":"left","baseline":"middle","fontSize":12,"color":"#333333","font":"Liberation Sans"},
"encoding":{"x":{"field":"x","type":"quantitative"},"y":{"field":"i","type":"quantitative"},"text":{"field":"t"}}},
{"data":{"values":[{"x":27,"i":21.5,"t":"no sig. diff."}]},"mark":{"type":"text","align":"left","baseline":"middle","fontSize":11,"color":"#333333","font":"Liberation Sans"},
"encoding":{"x":{"field":"x","type":"quantitative"},"y":{"field":"i","type":"quantitative"},"text":{"field":"t"}}},
{"data":{"values":[{"x":11,"i":-1.14,"t":"# of genes"}]},"mark":{"type":"text","align":"center","baseline":"middle","fontSize":11,"color":"#222222","font":"Liberation Sans"},
"encoding":{"x":{"field":"x","type":"quantitative"},"y":{"field":"i","type":"quantitative"},"text":{"field":"t"}}},
{"data":{"values":[{"x":-21,"i":4.64,"t":"observed"},{"x":-21,"i":15.5,"t":"expected"}]},"mark":{"type":"text","angle":270,"align":"center","baseline":"middle","fontSize":15,"color":"#222222","font":"Liberation Sans"},
"encoding":{"x":{"field":"x","type":"quantitative"},"y":{"field":"i","type":"quantitative"},"text":{"field":"t"}}}
]}
]}
